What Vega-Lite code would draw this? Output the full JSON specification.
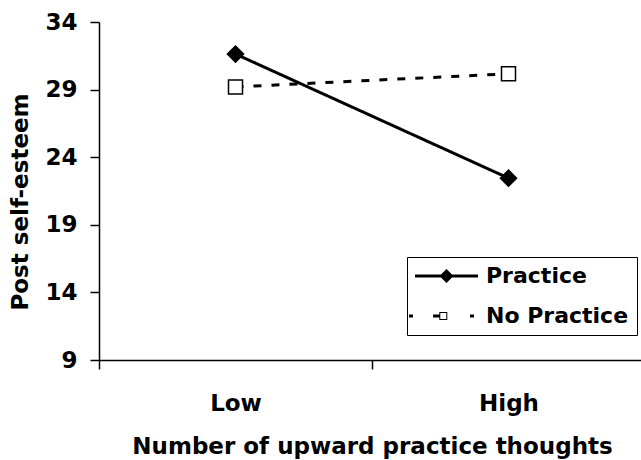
{
  "$schema": "https://vega.github.io/schema/vega-lite/v6.json",
  "width": 542,
  "height": 338,
  "autosize": {"type": "none"},
  "padding": {"left": 99, "top": 22, "right": 0, "bottom": 100},
  "background": "white",
  "config": {
    "view": {"stroke": null},
    "font": "DejaVu Sans",
    "axis": {
      "grid": false,
      "domainColor": "black",
      "domainWidth": 1.5,
      "tickColor": "black",
      "tickWidth": 1.5,
      "tickSize": 9,
      "labelFont": "DejaVu Sans",
      "labelFontSize": 23,
      "labelFontWeight": "bold",
      "labelColor": "black",
      "titleFont": "DejaVu Sans",
      "titleFontSize": 23,
      "titleFontWeight": "bold",
      "titleColor": "black"
    },
    "legend": {
      "symbolFillColor": "black",
      "symbolStrokeColor": "transparent",
      "symbolStrokeWidth": 0,
      "symbolSize": 100
    }
  },
  "data": {
    "values": [
      {"thoughts": "Low", "group": "Practice", "esteem": 31.63},
      {"thoughts": "High", "group": "Practice", "esteem": 22.45},
      {"thoughts": "Low", "group": "No Practice", "esteem": 29.2},
      {"thoughts": "High", "group": "No Practice", "esteem": 30.17}
    ]
  },
  "encoding": {
    "x": {
      "field": "thoughts",
      "type": "ordinal",
      "scale": {"type": "band", "domain": ["Low", "High"], "range": [0, 546], "paddingInner": 0, "paddingOuter": 0},
      "axis": {
        "title": "Number of upward practice thoughts",
        "labelAngle": 0,
        "tickBand": "extent",
        "labelPadding": 23,
        "titlePadding": 20
      }
    },
    "y": {
      "field": "esteem",
      "type": "quantitative",
      "scale": {"domain": [9, 34], "nice": false, "zero": false},
      "axis": {
        "title": "Post self-esteem",
        "values": [9, 14, 19, 24, 29, 34],
        "labelPadding": 13,
        "titlePadding": 12,
        "titleY": 179.5
      }
    }
  },
  "layer": [
    {
      "mark": {"type": "line", "color": "black", "strokeWidth": 3},
      "encoding": {
        "strokeDash": {
          "field": "group",
          "type": "nominal",
          "scale": {"domain": ["Practice", "No Practice"], "range": [[1, 0], [8, 10]]},
          "legend": {
            "orient": "none",
            "legendX": 308,
            "legendY": 235,
            "title": null,
            "direction": "vertical",
            "strokeColor": "black",
            "padding": 8,
            "symbolSize": 100,
            "labelOffset": 49,
            "rowPadding": 18,
            "labelFont": "DejaVu Sans",
            "labelFontSize": 22,
            "labelFontWeight": "bold",
            "labelColor": "black",
            "encode": {
              "symbols": {
                "update": {
                  "shape": {"signal": "datum.value === 'Practice' ? 'M-2.2,-0.3H10.4V0.3H-2.2Z M4.1,-1.4L5.5,0L4.1,1.4L2.7,0Z' : 'M-3.4,-0.3H-2.6V0.3H-3.4Z M1.4,-0.3H2.66V0.3H1.4Z M2.66,-0.8H4.26V0.8H2.66Z M2.86,-0.6V0.6H4.06V-0.6Z M8.8,-0.3H9.6V0.3H8.8Z'"},
                  "size": {"value": 100},
                  "fill": {"value": "black"},
                  "fillOpacity": {"value": 1},
                  "stroke": {"value": "transparent"},
                  "strokeWidth": {"value": 0},
                  "opacity": {"value": 1}
                }
              }
            }
          }
        }
      }
    },
    {
      "mark": {"type": "point", "filled": true, "stroke": "black", "strokeWidth": 1.5, "opacity": 1},
      "encoding": {
        "shape": {
          "condition": {"test": "datum.group === 'Practice'", "value": "diamond"},
          "value": "square"
        },
        "fill": {
          "condition": {"test": "datum.group === 'Practice'", "value": "black"},
          "value": "white"
        },
        "size": {
          "condition": {"test": "datum.group === 'Practice'", "value": 260},
          "value": 196
        }
      }
    }
  ]
}
